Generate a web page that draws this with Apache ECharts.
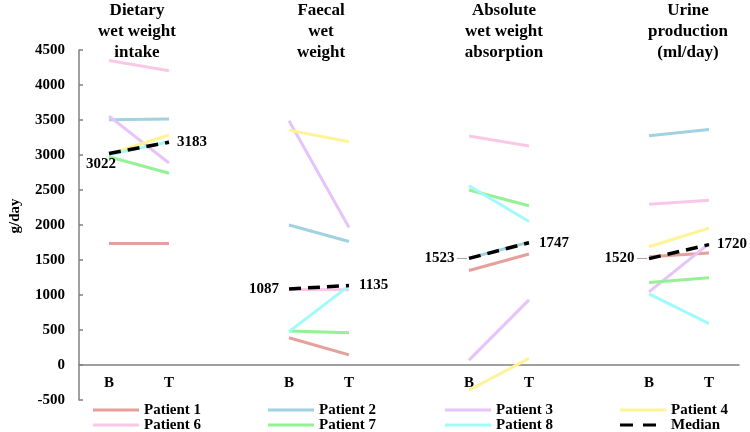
<!DOCTYPE html>
<html>
<head>
<meta charset="utf-8">
<script src="https://cdn.jsdelivr.net/npm/echarts@6/dist/echarts.min.js"></script>
<style>
html,body{margin:0;padding:0;background:#fff;}
#chart{width:750px;height:432px;}
</style>
</head>
<body>
<div id="chart"></div>
<script>
// Categories: B/T for each of four panels, blank spacer between panels
const categories = ['B','T','','B','T','','B','T','','B','T'];
const panelTitles = ['Dietary\nwet weight\nintake','Faecal\nwet\nweight','Absolute\nwet weight\nabsorption','Urine\nproduction\n(ml/day)'];
const yTicks = {min:-500, max:4500, interval:500};

// Values per series: [Dietary B,T, gap, Faecal B,T, gap, Absorption B,T, gap, Urine B,T]
const patient1 = [1735, 1735, null, 390, 145, null, 1350, 1585, null, 1545, 1600];
const patient2 = [3505, 3515, null, 2000, 1765, null, 1525, 1755, null, 3275, 3365];
const patient3 = [3555, 2885, null, 3490, 1965, null, 70, 930, null, 1045, 1735];
const patient4 = [3010, 3285, null, 3355, 3190, null, -360, 95, null, 1690, 1955];
const patient6 = [4350, 4205, null, 1080, 1075, null, 3270, 3130, null, 2295, 2355];
const patient7 = [2975, 2740, null, 485, 462, null, 2500, 2275, null, 1180, 1245];
const patient8 = [3005, 3190, null, 476, 1130, null, 2560, 2050, null, 1015, 590];
const median   = [3022, 3183, null, 1087, 1135, null, 1523, 1747, null, 1520, 1720];

const seriesNames = ['Patient 1','Patient 2','Patient 3','Patient 4','Patient 6','Patient 7','Patient 8','Median'];
const seriesData = [patient1, patient2, patient3, patient4, patient6, patient7, patient8, median];
const colors = ['#E6A09B','#A0D2E1','#E6C3FA','#FFF396','#FAC8E6','#96F096','#A0FAFA','#000000'];

const FONT = '"Liberation Serif", "Times New Roman", serif';

const chart = echarts.init(document.getElementById('chart'));

const titleCenters = [132, 316, 499, 683];
const titles = panelTitles.map((t, i) => ({
  text: t,
  left: titleCenters[i],
  top: -5,
  textAlign: 'center',
  textStyle: {fontFamily: FONT, fontWeight: 'bold', fontSize: 17, lineHeight: 21, color: '#000'}
}));

// median labels placement per point
const medianLabelCfg = [
  {position: 'bottom', distance: 3, offset: [-8, 0]},
  {position: 'right', distance: 8},
  null,
  {position: 'left', distance: 10},
  {position: 'right', distance: 10},
  null,
  {position: 'left', distance: 2, lead: true},
  {position: 'right', distance: 10},
  null,
  {position: 'left', distance: 2, lead: true},
  {position: 'right', distance: 8}
];

const series = seriesNames.map((name, i) => {
  const isMedian = name === 'Median';
  const data = seriesData[i].map((v, k) => {
    if (!isMedian || v === null) return v;
    const cfg = medianLabelCfg[k];
    return {
      value: v,
      label: {
        show: true,
        position: cfg.position,
        distance: cfg.distance,
        offset: cfg.offset || [0, 0],
        formatter: cfg.lead ? '{v|{c}}{g| —}' : '{v|{c}}',
        rich: {
          v: {fontFamily: FONT, fontWeight: 'bold', fontSize: 15, color: '#000'},
          g: {fontFamily: FONT, fontSize: 10, color: '#555'}
        }
      }
    };
  });
  return {
    name: name,
    type: 'line',
    data: data,
    symbol: isMedian ? 'circle' : 'none',
    symbolSize: isMedian ? 0.01 : 4,
    showSymbol: isMedian,
    connectNulls: false,
    silent: true,
    z: isMedian ? 5 : 2,
    lineStyle: isMedian ? {color: '#000', width: 3.5, type: [12, 7]} : {color: colors[i], width: 3},
    itemStyle: {color: colors[i]}
  };
});

const solidIcon = 'path://M0,0H46V3H0Z';
const dashIcon = 'path://M0,0H13V3H0Z M23,0H36V3H23Z M45.99,0H46V3H45.99Z';

const legendCols = [
  ['Patient 1','Patient 6'],
  ['Patient 2','Patient 7'],
  ['Patient 3','Patient 8'],
  ['Patient 4','Median']
];
const legendLefts = [93, 268, 445, 620];
const legends = legendCols.map((d, i) => ({
  data: d.map(n => ({name: n, icon: n === 'Median' ? dashIcon : solidIcon})),
  orient: 'vertical',
  left: legendLefts[i],
  top: 402.5,
  height: 60,
  itemWidth: 46,
  itemHeight: 3,
  itemGap: 0,
  padding: 0,
  symbolKeepAspect: false,
  selectedMode: false,
  itemStyle: {borderWidth: 0},
  textStyle: {fontFamily: FONT, fontWeight: 'bold', fontSize: 15, lineHeight: 15, color: '#000'}
}));

chart.setOption({
  animation: false,
  backgroundColor: '#fff',
  title: titles,
  legend: legends,
  grid: {left: 68, right: 11, top: 50, bottom: 32, containLabel: false},
  xAxis: {
    type: 'category',
    data: categories,
    boundaryGap: true,
    axisLine: {onZero: true, lineStyle: {color: '#808080', width: 1.5}},
    axisTick: {show: false},
    axisLabel: {fontFamily: FONT, fontWeight: 'bold', fontSize: 15, color: '#000', margin: -24, interval: 0},
    splitLine: {show: false}
  },
  yAxis: {
    type: 'value',
    min: yTicks.min,
    max: yTicks.max,
    interval: yTicks.interval,
    name: 'g/day',
    nameLocation: 'middle',
    nameGap: 56,
    nameTextStyle: {fontFamily: FONT, fontWeight: 'bold', fontSize: 15, color: '#000', padding: [0, 0, 0, 18]},
    axisLine: {show: true, lineStyle: {color: '#808080', width: 1.5}},
    axisTick: {show: true, inside: true, length: 4, lineStyle: {color: '#808080', width: 1.5}},
    axisLabel: {fontFamily: FONT, fontWeight: 'bold', fontSize: 15, color: '#000', margin: 14, formatter: v => String(v)},
    splitLine: {show: false}
  },
  series: series
});
</script>
</body>
</html>
